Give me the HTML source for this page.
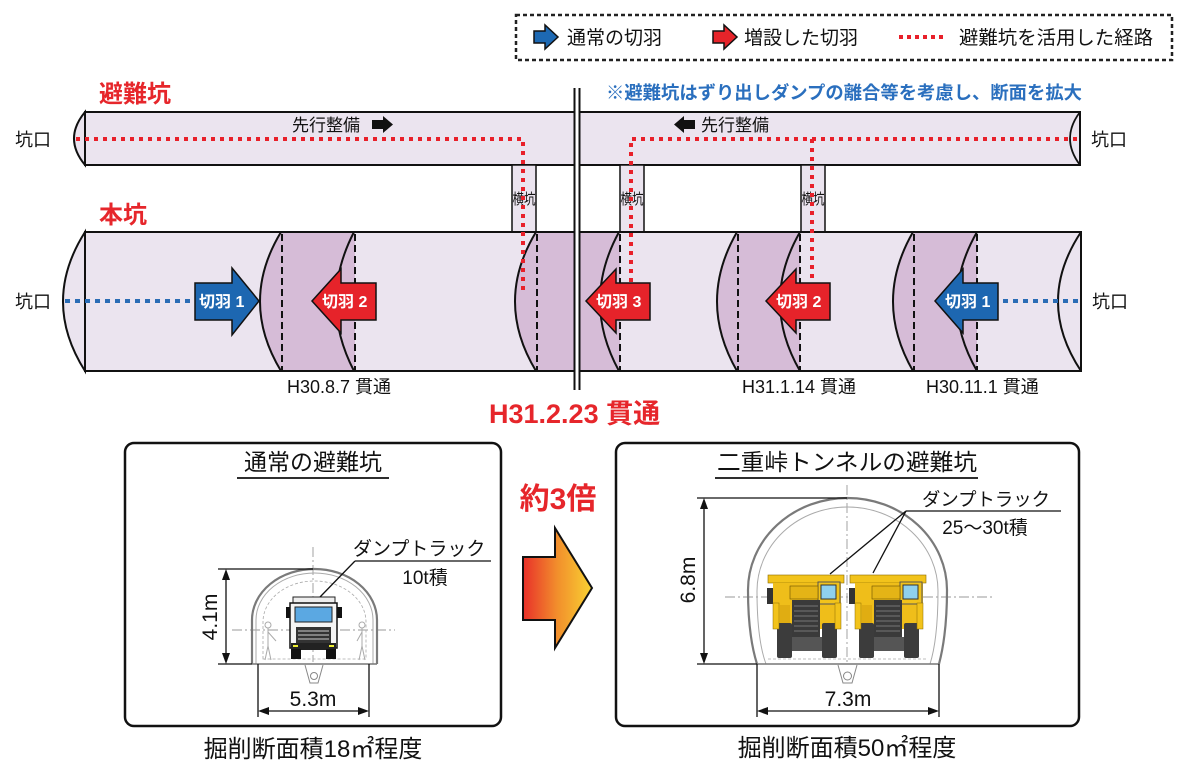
<!DOCTYPE html>
<html>
<head>
<meta charset="utf-8">
<style>
html,body{margin:0;padding:0;background:#fff;}
svg{display:block;}
text{font-family:"Liberation Sans","Noto Sans CJK JP",sans-serif;}
</style>
</head>
<body>
<svg width="1200" height="769" viewBox="0 0 1200 769" xmlns="http://www.w3.org/2000/svg">
<defs>
  <linearGradient id="og" x1="0" y1="0" x2="1" y2="0">
    <stop offset="0" stop-color="#e8302a"/>
    <stop offset="0.5" stop-color="#f28f2c"/>
    <stop offset="1" stop-color="#f8d232"/>
  </linearGradient>
</defs>
<rect x="0" y="0" width="1200" height="769" fill="#fff"/>

<!-- Legend -->
<rect x="516" y="15" width="656" height="45" fill="none" stroke="#222" stroke-width="2.5" stroke-dasharray="4 3"/>
<polygon points="534,31 545,31 545,25 558,37 545,49 545,43 534,43" fill="#1d69b3" stroke="#111" stroke-width="1.5"/>
<text x="567" y="44" font-size="19" fill="#111">通常の切羽</text>
<polygon points="713,31 724,31 724,25 737,37 724,49 724,43 713,43" fill="#e6242a" stroke="#111" stroke-width="1.5"/>
<text x="744" y="44" font-size="19" fill="#111">増設した切羽</text>
<line x1="899" y1="37" x2="946" y2="37" stroke="#e8202a" stroke-width="4" stroke-dasharray="4 4"/>
<text x="959" y="44" font-size="19" fill="#111" textLength="194" lengthAdjust="spacingAndGlyphs">避難坑を活用した経路</text>

<!-- Blue note -->
<text x="606" y="99" font-size="18" font-weight="bold" fill="#2a6fbe" textLength="476" lengthAdjust="spacingAndGlyphs">※避難坑はずり出しダンプの離合等を考慮し、断面を拡大</text>

<!-- Labels -->
<text x="99" y="102" font-size="24" font-weight="bold" fill="#e6262b">避難坑</text>
<text x="99" y="223" font-size="24" font-weight="bold" fill="#e6262b">本坑</text>
<text x="15" y="146" font-size="18" fill="#111">坑口</text>
<text x="1091" y="146" font-size="18" fill="#111">坑口</text>
<text x="15" y="308" font-size="18" fill="#111">坑口</text>
<text x="1092" y="308" font-size="18" fill="#111">坑口</text>

<!-- Top tunnel -->
<rect x="85" y="112" width="995" height="53" fill="#ebe4ef" stroke="#111" stroke-width="2"/>
<path d="M85,112 Q63,138.5 85,165 Z" fill="#ebe4ef" stroke="#111" stroke-width="2"/>
<path d="M1080,112 Q1060,138.5 1080,165" fill="none" stroke="#111" stroke-width="1.8"/>

<!-- 先行整備 -->
<text x="292" y="131" font-size="17" fill="#111">先行整備</text>
<polygon points="372,120 383,120 383,116 393,124.5 383,133 383,129 372,129" fill="#111"/>
<polygon points="695,120 684,120 684,116 674,124.5 684,133 684,129 695,129" fill="#111"/>
<text x="701" y="131" font-size="17" fill="#111">先行整備</text>

<!-- Cross passages -->
<rect x="512" y="165" width="24" height="67" fill="#ebe4ef" stroke="#111" stroke-width="1.5"/>
<rect x="620" y="165" width="24" height="67" fill="#ebe4ef" stroke="#111" stroke-width="1.5"/>
<rect x="801" y="165" width="24" height="67" fill="#ebe4ef" stroke="#111" stroke-width="1.5"/>

<!-- Main tunnel -->
<rect x="85" y="232" width="996" height="139" fill="#ebe4ef" stroke="#111" stroke-width="2"/>
<path d="M85,232 Q41,301.5 85,371 Z" fill="#ebe4ef" stroke="#111" stroke-width="2"/>

<!-- shaded sections -->
<g fill="#d6bcd7">
  <path d="M281,232 Q239,301.5 281,371 L355,371 L355,232 Z"/>
  <path d="M536,232 Q494,301.5 536,371 L620,371 L620,232 Z"/>
  <path d="M737,232 Q697,301.5 737,371 L800,371 L800,232 Z"/>
  <path d="M913,232 Q873,301.5 913,371 L977,371 L977,232 Z"/>
</g>
<g fill="none" stroke="#111" stroke-width="2">
  <path d="M281,232 Q239,301.5 281,371"/>
  <path d="M354,232 Q318,301.5 354,371"/>
  <path d="M536,232 Q494,301.5 536,371"/>
  <path d="M619,232 Q581,301.5 619,371"/>
  <path d="M737,232 Q697,301.5 737,371"/>
  <path d="M800,232 Q760,301.5 800,371"/>
  <path d="M913,232 Q873,301.5 913,371"/>
  <path d="M977,232 Q937,301.5 977,371"/>
  <path d="M1081,232 Q1035,301.5 1081,371"/>
</g>
<g stroke="#111" stroke-width="2" stroke-dasharray="7 4">
  <line x1="282" y1="234" x2="282" y2="370"/>
  <line x1="355" y1="234" x2="355" y2="370"/>
  <line x1="537" y1="234" x2="537" y2="370"/>
  <line x1="620" y1="234" x2="620" y2="370"/>
  <line x1="738" y1="234" x2="738" y2="370"/>
  <line x1="800" y1="234" x2="800" y2="370"/>
  <line x1="914" y1="234" x2="914" y2="370"/>
  <line x1="977" y1="234" x2="977" y2="370"/>
</g>
<rect x="85" y="232" width="996" height="139" fill="none" stroke="#111" stroke-width="2"/>

<!-- 横坑 labels -->
<text x="512.5" y="204" font-size="15" fill="#111" textLength="23" lengthAdjust="spacingAndGlyphs">横坑</text>
<text x="620.5" y="204" font-size="15" fill="#111" textLength="23" lengthAdjust="spacingAndGlyphs">横坑</text>
<text x="801.5" y="204" font-size="15" fill="#111" textLength="23" lengthAdjust="spacingAndGlyphs">横坑</text>

<!-- red dotted route -->
<g fill="none" stroke="#e8202a" stroke-width="4" stroke-dasharray="4 5">
  <path d="M76,139 H523 V290"/>
  <path d="M1077,139 H631 V288"/>
  <path d="M812,139 V284"/>
</g>
<!-- blue dotted -->
<g stroke="#2a6cb5" stroke-width="4" stroke-dasharray="5 5">
  <line x1="65" y1="301" x2="195" y2="301"/>
  <line x1="1003" y1="301" x2="1078" y2="301"/>
</g>

<!-- double cut line -->
<rect x="575.5" y="88" width="3" height="302" fill="#fff"/>
<line x1="574.5" y1="88" x2="574.5" y2="390" stroke="#111" stroke-width="2"/>
<line x1="579.5" y1="88" x2="579.5" y2="390" stroke="#111" stroke-width="2"/>

<!-- arrows -->
<polygon points="195,283 232,283 232,268 259,301 232,335 232,320 195,320" fill="#1d67b1" stroke="#111" stroke-width="1.5"/>
<text x="199" y="307" font-size="16" font-weight="bold" fill="#fff">切羽 1</text>
<polygon points="376,283 341,283 341,269 312,301 341,333 341,320 376,320" fill="#e6232a" stroke="#111" stroke-width="1.5"/>
<text x="322" y="307" font-size="16" font-weight="bold" fill="#fff">切羽 2</text>
<polygon points="650,283 616,283 616,269 586,301 616,333 616,320 650,320" fill="#e6232a" stroke="#111" stroke-width="1.5"/>
<text x="596" y="307" font-size="16" font-weight="bold" fill="#fff">切羽 3</text>
<polygon points="830,283 796,283 796,269 766,301 796,333 796,320 830,320" fill="#e6232a" stroke="#111" stroke-width="1.5"/>
<text x="776" y="307" font-size="16" font-weight="bold" fill="#fff">切羽 2</text>
<polygon points="998,283 963,283 963,269 935,301 963,333 963,320 998,320" fill="#1d67b1" stroke="#111" stroke-width="1.5"/>
<text x="945" y="307" font-size="16" font-weight="bold" fill="#fff">切羽 1</text>

<!-- dates -->
<text x="287" y="393" font-size="18" fill="#111">H30.8.7 貫通</text>
<text x="742" y="393" font-size="18" fill="#111">H31.1.14 貫通</text>
<text x="926" y="393" font-size="18" fill="#111">H30.11.1 貫通</text>
<text x="489" y="423" font-size="27" font-weight="bold" fill="#e6262b">H31.2.23 貫通</text>

<!-- Bottom boxes -->
<rect x="125" y="443" width="376" height="283" rx="9" fill="none" stroke="#111" stroke-width="2.5"/>
<rect x="616" y="443" width="463" height="283" rx="9" fill="none" stroke="#111" stroke-width="2.5"/>

<text x="313" y="470" font-size="23" fill="#111" text-anchor="middle">通常の避難坑</text>
<line x1="237" y1="478" x2="389" y2="478" stroke="#111" stroke-width="1.8"/>
<text x="847" y="470" font-size="23" fill="#111" text-anchor="middle" textLength="260" lengthAdjust="spacingAndGlyphs">二重峠トンネルの避難坑</text>
<line x1="715" y1="478" x2="978" y2="478" stroke="#111" stroke-width="1.8"/>

<!-- 約3倍 and arrow -->
<text x="558" y="509" font-size="30" font-weight="bold" fill="#e6262b" text-anchor="middle">約3倍</text>
<polygon points="523,557 555,557 555,528 592,588 555,648 555,620 523,620" fill="url(#og)" stroke="#111" stroke-width="2"/>

<!-- ===== Left cross-section ===== -->
<g fill="none">
  <!-- center lines -->
  <line x1="313" y1="547" x2="313" y2="662" stroke="#999" stroke-width="0.9" stroke-dasharray="10 3 2 3"/>
  <line x1="232" y1="630" x2="395" y2="630" stroke="#999" stroke-width="0.9" stroke-dasharray="10 3 2 3"/>
  <!-- lining -->
  <path d="M252,664 L252,620 A62.5,51 0 0 1 377,620 L377,664" stroke="#7a7a7a" stroke-width="2.2"/>
  <path d="M256,664 L256,620 A58.5,47 0 0 1 373,620 L373,664" stroke="#aaa" stroke-width="1"/>
  <path d="M263,659 L263,622 A51.5,41 0 0 1 366,622 L366,659 Z" stroke="#aaa" stroke-width="0.8" stroke-dasharray="3 2"/>
  <line x1="252" y1="664" x2="377" y2="664" stroke="#777" stroke-width="1.5"/>
  <!-- pit -->
  <path d="M305,665 L310,683 L318,683 L323,665" stroke="#888" stroke-width="1"/>
  <circle cx="314" cy="676" r="3.5" stroke="#888" stroke-width="1"/>
</g>
<!-- persons -->
<g fill="none" stroke="#aaa" stroke-width="1">
  <circle cx="268" cy="625" r="3"/>
  <path d="M268,628 L268,646 M268,646 L265,660 M268,646 L271,660 M268,632 L276,641"/>
  <circle cx="362" cy="625" r="3"/>
  <path d="M362,628 L362,646 M362,646 L359,660 M362,646 L365,660 M362,632 L357,641"/>
</g>
<!-- small truck -->
<g>
  <rect x="293" y="597" width="42" height="7" fill="#eee" stroke="#222" stroke-width="1"/>
  <rect x="290" y="603" width="47" height="45" fill="#f4f4f4" stroke="#111" stroke-width="1.5"/>
  <rect x="295" y="607" width="37" height="15" fill="#5ba8e2" stroke="#222" stroke-width="1"/>
  <rect x="286" y="607" width="4" height="11" fill="#111"/>
  <rect x="337" y="607" width="5" height="11" fill="#111"/>
  <rect x="296" y="627" width="35" height="16" fill="#333"/>
  <line x1="298" y1="631" x2="329" y2="631" stroke="#ccc" stroke-width="1"/>
  <line x1="298" y1="635" x2="329" y2="635" stroke="#ccc" stroke-width="1"/>
  <line x1="298" y1="639" x2="329" y2="639" stroke="#ccc" stroke-width="1"/>
  <rect x="291" y="643" width="45" height="7" fill="#222"/>
  <rect x="291" y="649" width="10" height="10" fill="#111"/>
  <rect x="326" y="649" width="10" height="10" fill="#111"/>
  <rect x="293" y="645" width="5" height="2" fill="#ee3"/>
  <rect x="329" y="645" width="5" height="2" fill="#ee3"/>
</g>
<!-- dims left -->
<g stroke="#111" stroke-width="1.3">
  <line x1="218" y1="569" x2="313" y2="569"/>
  <line x1="218" y1="664" x2="252" y2="664"/>
  <line x1="226" y1="574" x2="226" y2="659"/>
  <line x1="258" y1="664" x2="258" y2="717"/>
  <line x1="369" y1="664" x2="369" y2="717"/>
  <line x1="263" y1="711" x2="364" y2="711"/>
</g>
<g fill="#111">
  <polygon points="226,569 222,580 230,580"/>
  <polygon points="226,664 222,653 230,653"/>
  <polygon points="258,711 269,707 269,715"/>
  <polygon points="369,711 358,707 358,715"/>
</g>
<text transform="translate(217,617) rotate(-90)" font-size="21" fill="#111" text-anchor="middle">4.1m</text>
<text x="313" y="706" font-size="21" fill="#111" text-anchor="middle">5.3m</text>
<text x="353" y="555" font-size="19" fill="#111">ダンプトラック</text>
<line x1="355" y1="561" x2="491" y2="561" stroke="#111" stroke-width="1.3"/>
<line x1="355" y1="561" x2="320" y2="597" stroke="#111" stroke-width="1.3"/>
<text x="425" y="584" font-size="19" fill="#111" text-anchor="middle">10t積</text>
<text x="313" y="757" font-size="24" fill="#111" text-anchor="middle">掘削断面積18㎡程度</text>

<!-- ===== Right cross-section ===== -->
<g fill="none">
  <line x1="847" y1="485" x2="847" y2="663" stroke="#999" stroke-width="0.9" stroke-dasharray="10 3 2 3"/>
  <line x1="725" y1="597" x2="992" y2="597" stroke="#999" stroke-width="0.9" stroke-dasharray="10 3 2 3"/>
  <path d="M757,664 C751,645 748,620 748,590 A99.5,92 0 0 1 947,590 C947,620 944,645 939,664" stroke="#7a7a7a" stroke-width="2.2"/>
  <path d="M766,664 C759,645 757,620 757,591 A90.5,84 0 0 1 938,591 C938,620 936,645 930,664" stroke="#aaa" stroke-width="1"/>
  <line x1="757" y1="664" x2="939" y2="664" stroke="#777" stroke-width="1.5"/>
  <line x1="768" y1="659" x2="928" y2="659" stroke="#aaa" stroke-width="0.8" stroke-dasharray="3 2"/>
  <path d="M838,665 L843,683 L852,683 L857,665" stroke="#888" stroke-width="1"/>
  <circle cx="847.5" cy="676" r="4" stroke="#888" stroke-width="1"/>
</g>
<!-- big trucks -->
<g id="bt1" transform="translate(768,573)">
  <rect x="0" y="2" width="76" height="8" fill="#f2c31b" stroke="#8a6a00" stroke-width="0.6"/>
  <rect x="5" y="10" width="68" height="46" fill="#efbe1a"/>
  <rect x="50" y="9" width="22" height="22" fill="#f2c31b" stroke="#555" stroke-width="1"/>
  <rect x="53" y="12" width="15" height="14" fill="#8fd0ee" stroke="#333" stroke-width="1"/>
  <rect x="-1" y="15" width="6" height="16" fill="#333"/>
  <rect x="22" y="13" width="28" height="13" fill="#e4b416" stroke="#6a5000" stroke-width="0.6"/>
  <rect x="24" y="27" width="28" height="38" fill="#3a3a3a"/>
  <g stroke="#777" stroke-width="1">
    <line x1="26" y1="33" x2="50" y2="33"/>
    <line x1="26" y1="38" x2="50" y2="38"/>
    <line x1="26" y1="43" x2="50" y2="43"/>
    <line x1="26" y1="48" x2="50" y2="48"/>
    <line x1="26" y1="53" x2="50" y2="53"/>
    <line x1="26" y1="58" x2="50" y2="58"/>
  </g>
  <rect x="9" y="50" width="15" height="35" rx="2" fill="#3c3c3c"/>
  <rect x="54" y="50" width="15" height="35" rx="2" fill="#3c3c3c"/>
  <rect x="24" y="64" width="30" height="14" fill="#555"/>
  <rect x="5" y="30" width="6" height="26" fill="#f2c31b" stroke="#8a6a00" stroke-width="0.5"/>
  <rect x="67" y="30" width="6" height="26" fill="#f2c31b" stroke="#8a6a00" stroke-width="0.5"/>
  <rect x="12" y="32" width="10" height="18" fill="#e0ad12"/>
</g>
<g transform="translate(850,573)">
  <rect x="0" y="2" width="76" height="8" fill="#f2c31b" stroke="#8a6a00" stroke-width="0.6"/>
  <rect x="5" y="10" width="68" height="46" fill="#efbe1a"/>
  <rect x="50" y="9" width="22" height="22" fill="#f2c31b" stroke="#555" stroke-width="1"/>
  <rect x="53" y="12" width="15" height="14" fill="#8fd0ee" stroke="#333" stroke-width="1"/>
  <rect x="-1" y="15" width="6" height="16" fill="#333"/>
  <rect x="22" y="13" width="28" height="13" fill="#e4b416" stroke="#6a5000" stroke-width="0.6"/>
  <rect x="24" y="27" width="28" height="38" fill="#3a3a3a"/>
  <g stroke="#777" stroke-width="1">
    <line x1="26" y1="33" x2="50" y2="33"/>
    <line x1="26" y1="38" x2="50" y2="38"/>
    <line x1="26" y1="43" x2="50" y2="43"/>
    <line x1="26" y1="48" x2="50" y2="48"/>
    <line x1="26" y1="53" x2="50" y2="53"/>
    <line x1="26" y1="58" x2="50" y2="58"/>
  </g>
  <rect x="9" y="50" width="15" height="35" rx="2" fill="#3c3c3c"/>
  <rect x="54" y="50" width="15" height="35" rx="2" fill="#3c3c3c"/>
  <rect x="24" y="64" width="30" height="14" fill="#555"/>
  <rect x="5" y="30" width="6" height="26" fill="#f2c31b" stroke="#8a6a00" stroke-width="0.5"/>
  <rect x="67" y="30" width="6" height="26" fill="#f2c31b" stroke="#8a6a00" stroke-width="0.5"/>
  <rect x="12" y="32" width="10" height="18" fill="#e0ad12"/>
</g>
<!-- dims right -->
<g stroke="#111" stroke-width="1.3">
  <line x1="697" y1="498" x2="847" y2="498"/>
  <line x1="697" y1="664" x2="757" y2="664"/>
  <line x1="704" y1="503" x2="704" y2="659"/>
  <line x1="757" y1="664" x2="757" y2="717"/>
  <line x1="939" y1="664" x2="939" y2="717"/>
  <line x1="762" y1="711" x2="934" y2="711"/>
</g>
<g fill="#111">
  <polygon points="704,498 700,509 708,509"/>
  <polygon points="704,664 700,653 708,653"/>
  <polygon points="757,711 768,707 768,715"/>
  <polygon points="939,711 928,707 928,715"/>
</g>
<text transform="translate(695,580) rotate(-90)" font-size="21" fill="#111" text-anchor="middle">6.8m</text>
<text x="848" y="706" font-size="21" fill="#111" text-anchor="middle">7.3m</text>
<text x="922" y="506" font-size="18.5" fill="#111" textLength="128" lengthAdjust="spacingAndGlyphs">ダンプトラック</text>
<line x1="906" y1="511" x2="1061" y2="511" stroke="#111" stroke-width="1.3"/>
<line x1="906" y1="511" x2="830" y2="574" stroke="#111" stroke-width="1.3"/>
<line x1="906" y1="511" x2="873" y2="573" stroke="#111" stroke-width="1.3"/>
<text x="985" y="534" font-size="19" fill="#111" text-anchor="middle">25～30t積</text>
<text x="847" y="756" font-size="24" fill="#111" text-anchor="middle">掘削断面積50㎡程度</text>
</svg>
</body>
</html>
